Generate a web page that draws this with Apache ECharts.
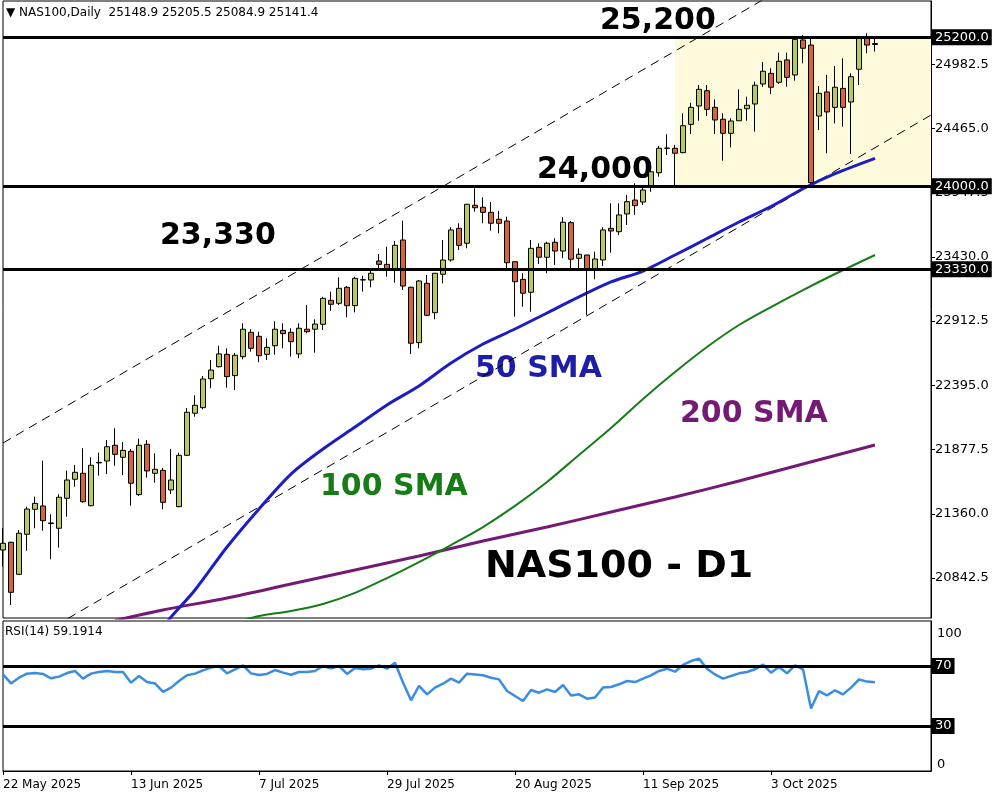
<!DOCTYPE html>
<html>
<head>
<meta charset="utf-8">
<title>NAS100 Daily</title>
<script src="https://cdn.jsdelivr.net/npm/echarts@6/dist/echarts.min.js"></script>
<style>
  html, body { margin: 0; padding: 0; background: #fff; }
  #chart { width: 1000px; height: 800px; }
</style>
</head>
<body>
<div id="chart"></div>
<script>
// daily bars, first one is 22 May 2025
const open = [
  21068, 21130, 20872, 21195, 21396, 21423, 21286, 21243, 21485, 21638,
  21686, 21425, 21770, 21785, 21912, 21815, 21863, 21514, 21920, 21686,
  21710, 21552, 21417, 21831, 22170, 22215, 22448, 22545, 22645, 22473,
  22626, 22822, 22790, 22645, 22714, 22838, 22822, 22648, 22847, 22847,
  22887, 23080, 23056, 23185, 23037, 23244, 23244, 23397, 23370, 23324,
  23566, 23185, 22739, 23217, 22980, 23290, 23405, 23660, 23540, 23846,
  23830, 23789, 23733, 23719, 23391, 23249, 23145, 23507, 23427, 23548,
  23477, 23706, 23419, 23445, 23324, 23405, 23660, 23633, 23776, 23888,
  23872, 23996, 24108, 24305, 24305, 24270, 24498, 24646, 24769, 24635,
  24539, 24426, 24527, 24624, 24662, 24823, 24909, 24837, 25017, 24896,
  25178, 25137, 24565, 24759, 24635, 24788, 24678, 24942, 25191, 25148.9
];
const close = [
  21122, 20727, 21203, 21398, 21444, 21304, 21281, 21493, 21632, 21694,
  21457, 21751, 21774, 21900, 21839, 21871, 21606, 21912, 21705, 21718,
  21452, 21632, 21831, 22178, 22234, 22446, 22518, 22648, 22465, 22637,
  22847, 22693, 22634, 22701, 22847, 22811, 22747, 22855, 22827, 22889,
  23096, 23048, 23177, 23037, 23257, 23246, 23298, 23370, 23324, 23523,
  23195, 22734, 23236, 22959, 23298, 23405, 23647, 23523, 23854, 23826,
  23789, 23701, 23701, 23383, 23230, 23137, 23499, 23427, 23540, 23477,
  23709, 23411, 23451, 23324, 23413, 23647, 23639, 23768, 23875, 23843,
  23969, 24116, 24305, 24307, 24265, 24487, 24635, 24780, 24619, 24533,
  24426, 24525, 24619, 24652, 24813, 24926, 24797, 25006, 24877, 25183,
  25111, 24028, 24748, 24598, 24797, 24635, 24882, 25191, 25137, 25141.4
];
const low = [
  20934, 20625, 20867, 21062, 21243, 21224, 20993, 21087, 21336, 21578,
  21449, 21420, 21667, 21680, 21747, 21672, 21425, 21503, 21651, 21610,
  21396, 21519, 21412, 21825, 22142, 22202, 22371, 22540, 22376, 22357,
  22605, 22666, 22581, 22599, 22642, 22693, 22626, 22613, 22814, 22658,
  22841, 22996, 23042, 22943, 22983, 23150, 23185, 23338, 23270, 23222,
  23163, 22648, 22693, 22954, 22927, 23217, 23391, 23486, 23499, 23794,
  23701, 23641, 23620, 23338, 22948, 23029, 22988, 23373, 23298, 23365,
  23419, 23324, 23324, 22962, 23249, 23357, 23464, 23606, 23687, 23768,
  23848, 23955, 24076, 24251, 24009, 24265, 24420, 24527, 24565, 24420,
  24205, 24313, 24525, 24527, 24439, 24801, 24743, 24823, 24801, 24850,
  24990, 24017, 24452, 24265, 24506, 24479, 24259, 24815, 25071, 25084.9
];
const high = [
  21243, 21135, 21229, 21417, 21498, 21788, 21356, 21517, 21707, 21753,
  21888, 21815, 21852, 21954, 22049, 21938, 21882, 21965, 21954, 21847,
  21729, 21882, 21852, 22212, 22315, 22470, 22599, 22714, 22693, 22656,
  22895, 22847, 22827, 22774, 22911, 22895, 22855, 22895, 23042, 22927,
  23109, 23150, 23266, 23195, 23270, 23278, 23338, 23453, 23512, 23558,
  23722, 23190, 23244, 23284, 23300, 23566, 23668, 23701, 23856, 23983,
  23910, 23872, 23800, 23754, 23395, 23298, 23566, 23540, 23552, 23580,
  23749, 23719, 23499, 23447, 23472, 23668, 23862, 23862, 23929, 24023,
  24001, 24130, 24324, 24418, 24332, 24587, 24672, 24815, 24815, 24700,
  24587, 24547, 24780, 24721, 24842, 25000, 24950, 25075, 25075, 25210,
  25218, 25210, 24807, 24896, 24968, 25030, 24909, 25204, 25232, 25205.5
];

// moving averages: [bar index, price]
const sma50 = [
  [20, 20440], [21, 20528], [24, 20746], [28, 21092], [32, 21399], [36, 21680],
  [40, 21882], [44, 22059], [48, 22237], [52, 22390], [56, 22575], [60, 22728],
  [64, 22849], [68, 22978], [72, 23107], [76, 23228], [80, 23316], [84, 23445],
  [88, 23578], [92, 23711], [96, 23836], [100, 23979], [104, 24100], [109, 24224]
];
const sma100 = [
  [30, 20500], [32, 20536], [36, 20577], [40, 20633], [44, 20722], [48, 20842],
  [52, 20971], [56, 21108], [60, 21253], [64, 21423], [68, 21616], [72, 21834],
  [76, 22051], [80, 22285], [84, 22502], [88, 22704], [92, 22881], [96, 23026],
  [100, 23163], [104, 23292], [109, 23445]
];
const sma200 = [
  [14, 20500], [20, 20585], [28, 20681], [36, 20794], [44, 20907], [52, 21020],
  [60, 21141], [68, 21253], [76, 21374], [84, 21495], [92, 21624], [100, 21761],
  [109, 21914]
];

// channel lines (dashed)
const channelUpper = [[0, 21930], [116, 26292]];
const channelLower = [[0, 20211], [116, 24573]];

const rsi = [
  64.4, 58.4, 62.2, 64.9, 65.3, 64.7, 61.8, 62.9, 65.3, 66.7,
  61.6, 64.9, 66.0, 66.7, 66.0, 66.0, 58.9, 63.3, 59.3, 58.4,
  52.7, 55.6, 60.0, 63.8, 64.9, 67.1, 68.9, 70.0, 65.1, 67.8,
  70.4, 65.1, 64.0, 64.7, 67.3, 65.6, 64.2, 66.0, 66.0, 66.7,
  70.0, 68.4, 70.0, 64.7, 68.7, 67.8, 68.2, 70.4, 68.2, 72.2,
  59.0, 47.1, 56.7, 51.1, 55.6, 58.2, 61.6, 58.9, 64.9, 64.4,
  63.8, 62.2, 61.1, 53.3, 50.0, 46.7, 54.0, 52.2, 54.4, 52.7,
  57.3, 50.4, 51.1, 48.2, 49.0, 55.6, 56.0, 57.8, 60.0, 59.3,
  61.6, 63.8, 66.7, 68.2, 66.2, 70.7, 73.3, 74.9, 68.2, 64.4,
  61.6, 63.3, 65.1, 66.0, 67.8, 70.9, 65.6, 69.3, 65.1, 70.4,
  67.8, 41.6, 53.3, 50.4, 53.8, 51.1, 55.6, 61.0, 59.6, 59.19
];

const levels = [25200, 24000, 23330];
const lastPrice = 25141.4;
const priceTicks = [20842.5, 21360, 21877.5, 22395, 22912.5, 23430, 23947.5, 24465, 24982.5];
const rsiLevels = [70, 30];
const rsiTicks = [0, 100];
const zone = { from: 84, lo: 24000, hi: 25200 };

// trading-day categories, plus empty slots on the right
const months = ['Jan', 'Feb', 'Mar', 'Apr', 'May', 'Jun', 'Jul', 'Aug', 'Sep', 'Oct', 'Nov', 'Dec'];
const dates = [];
const d = new Date(Date.UTC(2025, 4, 22));
while (dates.length < close.length) {
  const wd = d.getUTCDay();
  if (wd !== 0 && wd !== 6) dates.push(d.getUTCDate() + ' ' + months[d.getUTCMonth()] + ' ' + d.getUTCFullYear());
  d.setUTCDate(d.getUTCDate() + 1);
}
for (let i = 0; i < 7; i++) dates.push('');

const candles = close.map((c, i) => [open[i], c, low[i], high[i]]);
const everySixteen = (i, v) => v !== '' && i % 16 === 0;

const FONT = 'DejaVu Sans';
const boxLabel = {
  show: true,
  position: 'end',
  distance: 1,
  color: '#fff',
  backgroundColor: '#000',
  padding: [2, 3, 1, 3],
  fontFamily: FONT,
  fontSize: 13
};

const chart = echarts.init(document.getElementById('chart'));

chart.setOption({
  animation: false,
  backgroundColor: '#fff',
  grid: [
    { left: 3, top: 1, width: 928, height: 617, show: true, borderColor: '#000', borderWidth: 1, backgroundColor: '#fff' },
    { left: 3, top: 621, width: 928, height: 150, show: true, borderColor: '#000', borderWidth: 1, backgroundColor: '#fff' }
  ],
  xAxis: [
    {
      type: 'category', gridIndex: 0, data: dates, boundaryGap: false,
      axisLine: { show: false }, axisTick: { show: false }, axisLabel: { show: false }, splitLine: { show: false }
    },
    {
      type: 'category', gridIndex: 1, data: dates, boundaryGap: false,
      axisLine: { lineStyle: { color: '#000' } },
      axisTick: { interval: everySixteen, length: 4, lineStyle: { color: '#000' } },
      axisLabel: { interval: everySixteen, align: 'left', margin: 8, color: '#000', fontFamily: FONT, fontSize: 12 },
      splitLine: { show: false }
    }
  ],
  yAxis: [
    {
      type: 'value', gridIndex: 0, position: 'right', min: 20520, max: 25492,
      axisLine: { show: true, lineStyle: { color: '#000' } },
      axisTick: { show: true, length: 4, customValues: priceTicks, lineStyle: { color: '#000' } },
      axisLabel: {
        customValues: priceTicks, margin: 4, color: '#000', fontFamily: FONT, fontSize: 13,
        formatter: v => v.toFixed(1)
      },
      splitLine: { show: false }
    },
    {
      type: 'value', gridIndex: 1, position: 'right', min: 0, max: 100,
      axisLine: { show: true, lineStyle: { color: '#000' } },
      axisTick: { show: false },
      axisLabel: {
        customValues: rsiTicks, margin: 6, color: '#000', fontFamily: FONT, fontSize: 13,
        verticalAlignMinLabel: 'bottom', verticalAlignMaxLabel: 'top',
        formatter: v => (v === 100 ? '{t|100}' : String(v)),
        rich: { t: { fontFamily: FONT, fontSize: 13, padding: [6, 0, 0, 0] } }
      },
      splitLine: { show: false }
    }
  ],
  series: [
    {
      name: 'channel-upper', type: 'line', xAxisIndex: 0, yAxisIndex: 0, z: 1,
      data: channelUpper, symbol: 'none', silent: true,
      lineStyle: { color: '#000', width: 1, type: [9, 6] },
      markArea: {
        silent: true,
        itemStyle: { color: '#fdfbdb' },
        data: [[{ coord: [zone.from, zone.hi] }, { coord: [dates.length - 1, zone.lo] }]]
      }
    },
    {
      name: 'channel-lower', type: 'line', xAxisIndex: 0, yAxisIndex: 0, z: 1,
      data: channelLower, symbol: 'none', silent: true,
      lineStyle: { color: '#000', width: 1, type: [9, 6] }
    },
    {
      name: '200 SMA', type: 'line', xAxisIndex: 0, yAxisIndex: 0, z: 2,
      data: sma200, symbol: 'none', smooth: 0.3,
      lineStyle: { color: '#741a74', width: 3 }
    },
    {
      name: '100 SMA', type: 'line', xAxisIndex: 0, yAxisIndex: 0, z: 2,
      data: sma100, symbol: 'none', smooth: 0.3,
      lineStyle: { color: '#167c16', width: 2 }
    },
    {
      name: '50 SMA', type: 'line', xAxisIndex: 0, yAxisIndex: 0, z: 2,
      data: sma50, symbol: 'none', smooth: 0.3,
      lineStyle: { color: '#1c1ec4', width: 3 }
    },
    {
      name: 'NAS100', type: 'candlestick', xAxisIndex: 0, yAxisIndex: 0, z: 3,
      data: candles, barWidth: 5, clip: true,
      itemStyle: {
        color: '#b7ca5c', color0: '#d4653a',
        borderColor: '#000', borderColor0: '#000', borderColorDoji: '#000', borderWidth: 1
      },
      markLine: {
        silent: true, symbol: 'none', animation: false,
        data: [
          { yAxis: lastPrice, lineStyle: { opacity: 0 }, label: Object.assign({}, boxLabel, { formatter: lastPrice.toFixed(1) }) }
        ].concat(levels.map(v => ({
          yAxis: v,
          lineStyle: { color: '#000', width: 3, type: 'solid' },
          label: Object.assign({}, boxLabel, { formatter: v.toFixed(1) })
        })))
      }
    },
    {
      name: 'RSI(14)', type: 'line', xAxisIndex: 1, yAxisIndex: 1,
      data: rsi, symbol: 'none',
      lineStyle: { color: '#3a8de0', width: 2.5 },
      markLine: {
        silent: true, symbol: 'none', animation: false,
        data: rsiLevels.map(v => ({ yAxis: v })),
        lineStyle: { color: '#000', width: 3, type: 'solid' },
        label: Object.assign({}, boxLabel, { formatter: p => String(p.value) })
      }
    }
  ],
  graphic: [
    { type: 'text', left: 6, top: 7, style: { text: '▼ NAS100,Daily  25148.9 25205.5 25084.9 25141.4', fill: '#000', font: '12px "DejaVu Sans"' } },
    { type: 'text', left: 5, top: 626, style: { text: 'RSI(14) 59.1914', fill: '#000', font: '12px "DejaVu Sans"' } },
    { type: 'text', left: 600, top: 6, style: { text: '25,200', fill: '#000', font: 'bold 30px "DejaVu Sans"' } },
    { type: 'text', left: 537, top: 155, style: { text: '24,000', fill: '#000', font: 'bold 30px "DejaVu Sans"' } },
    { type: 'text', left: 160, top: 221, style: { text: '23,330', fill: '#000', font: 'bold 30px "DejaVu Sans"' } },
    { type: 'text', left: 475, top: 354, style: { text: '50 SMA', fill: '#1c1ea8', font: 'bold 30px "DejaVu Sans"' } },
    { type: 'text', left: 680, top: 399, style: { text: '200 SMA', fill: '#741a74', font: 'bold 30px "DejaVu Sans"' } },
    { type: 'text', left: 320, top: 472, style: { text: '100 SMA', fill: '#167c16', font: 'bold 30px "DejaVu Sans"' } },
    { type: 'text', left: 485, top: 548, style: { text: 'NAS100 - D1', fill: '#000', font: 'bold 38px "DejaVu Sans"' } }
  ]
});
</script>
</body>
</html>
